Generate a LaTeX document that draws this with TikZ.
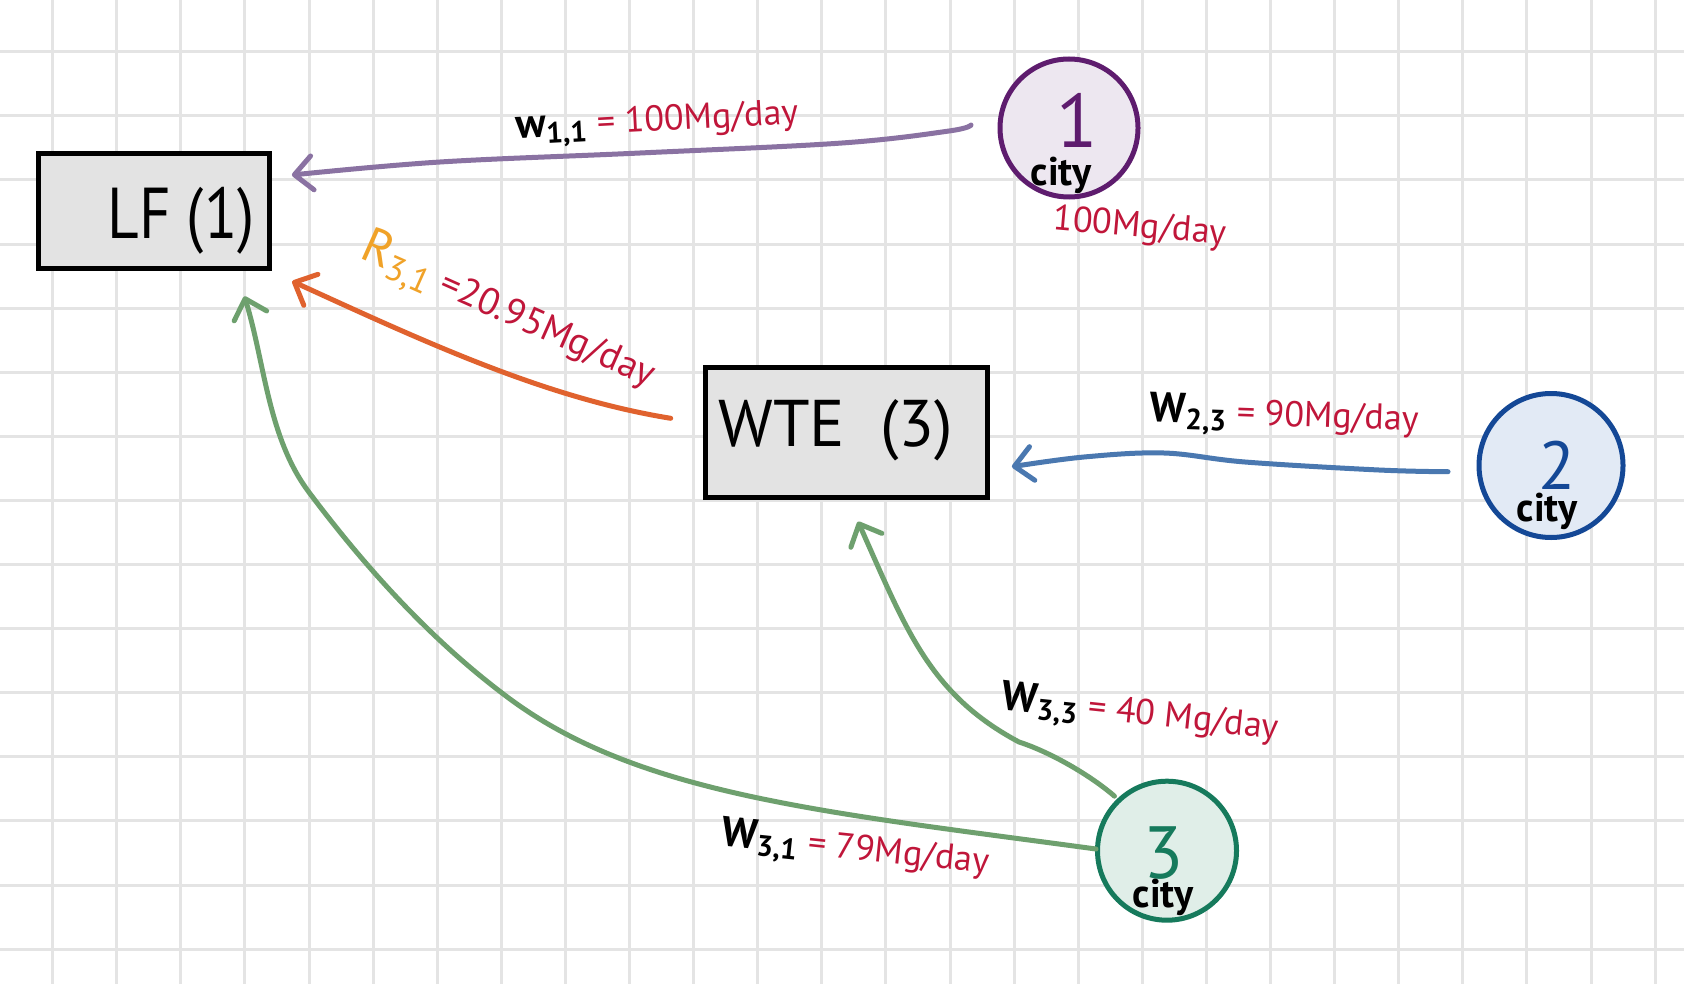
\documentclass[tikz,border=0pt]{standalone}
\usepackage{fontspec}
\setmainfont{PT Sans}
\usetikzlibrary{arrows.meta,calc}
\definecolor{gridc}{RGB}{228,228,228}
\definecolor{boxfill}{RGB}{227,227,227}
\definecolor{crimson}{RGB}{192,22,58}
\definecolor{amber}{RGB}{240,162,40}
\definecolor{purpleline}{RGB}{138,114,162}
\definecolor{purpledark}{RGB}{94,28,110}
\definecolor{purplefill}{RGB}{237,231,240}
\definecolor{orangeline}{RGB}{224,98,46}
\definecolor{blueline}{RGB}{74,120,176}
\definecolor{bluedark}{RGB}{20,72,150}
\definecolor{bluefill}{RGB}{226,234,245}
\definecolor{greenline}{RGB}{110,160,110}
\definecolor{greendark}{RGB}{22,122,92}
\definecolor{greenfill}{RGB}{224,238,232}
\newcommand{\blk}[1]{{\bfseries\fontsize{21}{21}\selectfont #1}}
\tikzset{
  boxnode/.style={draw=black, fill=boxfill, line width=2.5pt, inner sep=0pt, outer sep=0pt},
  citynode/.style={circle, line width=2.5pt, inner sep=0pt, outer sep=0pt},
  bigtxt/.style={inner sep=0pt, font=\fontsize{36}{36}\selectfont},
  numtxt/.style={inner sep=0pt, font=\fontsize{34}{34}\selectfont},
  citytxt/.style={inner sep=0pt, font=\bfseries\fontsize{20}{20}\selectfont},
  lab/.style={inner sep=0pt, font=\fontsize{18}{18}\selectfont},
  flow/.style={line width=2.5pt, line cap=round, line join=round,
    -{Straight Barb[length=9pt,width=17pt,round]}},
}
\begin{document}
\begin{tikzpicture}[x=0.5pt,y=-0.5pt]
\useasboundingbox (0,0) rectangle (1684,984);
\fill[white] (0,0) rectangle (1684,984);
% graph paper
\foreach \k in {0,...,25} \draw[gridc, line width=1.5pt] ({52.6+64.1*\k},0) -- ({52.6+64.1*\k},984);
\foreach \k in {0,...,14} \draw[gridc, line width=1.5pt] (0,{51.7+64.1*\k}) -- (1684,{51.7+64.1*\k});

% boxes
\node[boxnode, minimum width=115.5pt, minimum height=57.5pt] (lf) at (154.1,210.7) {};
\node[bigtxt, xscale=0.85] (lftext) at (181,221) {LF (1)};
\node[boxnode, minimum width=141pt, minimum height=65pt] (wte) at (846.6,432.9) {};
\node[bigtxt, font=\fontsize{33}{33}\selectfont] (wtetext) at (836,430) {WTE\ \ (3)};

% cities
\node[citynode, draw=purpledark, fill=purplefill, minimum size=69pt] (c1) at (1069,128) {};
\node[numtxt, text=purpledark, font=\fontsize{38}{38}\selectfont] (n1) at (1077,120) {1};
\node[citytxt] (city1) at (1061,175) {city};
\node[citynode, draw=bluedark, fill=bluefill, minimum size=72pt] (c2) at (1551,465.5) {};
\node[numtxt, text=bluedark] (n2) at (1557,465) {2};
\node[citytxt] (city2) at (1547,511) {city};
\node[citynode, draw=greendark, fill=greenfill, minimum size=69.5pt] (c3) at (1167,850.7) {};
\node[numtxt, text=greendark, font=\fontsize{37}{37}\selectfont] (n3) at (1164,853) {3};
\node[citytxt] (city3) at (1163,897) {city};

% connector ends
\coordinate (s1) at ($(c1.west)+(-29,-3)$);
\coordinate (e1) at ($(lf.north east)+(22.3,21.8)$);
\coordinate (s2) at ($(wte.west)+(-34.9,-14.6)$);
\coordinate (e2) at ($(lf.south east)+(22.6,13.1)$);
\coordinate (s3) at ($(c2.west)+(-31,6.2)$);
\coordinate (e3) at ($(wte.east)+(24.3,33.8)$);
\coordinate (s4) at ($(c3.north west)+(-3.4,-5.4)$);
\coordinate (e4) at ($(wte.south)+(11.4,23.7)$);
\coordinate (s5) at ($(c3.west)+(-1.5,-1.7)$);
\coordinate (e5) at ($(lf.south)+(90.3,28.1)$);

% connectors
\draw[flow, purpleline] plot[smooth, tension=0.6] coordinates {(s1) (949,131) (842,143) (640,153) (440,162) (e1)};
\draw[flow, orangeline] (s2) .. controls (545,398) and (424,341.5) .. (e2);
\draw[flow, blueline] plot[smooth, tension=0.6] coordinates {(s3) (1379,470) (1245,462) (1164,453) (1084,457) (e3)};
\draw[flow, greenline] (s4) .. controls (1090,775) and (1050,752) .. (1019,742)
   .. controls (929,694) and (906,629) .. (e4);
\draw[flow, greenline] (s5) .. controls (823,812) and (640,795) .. (510,699)
   .. controls (432.8,642) and (366.4,568.8) .. (308.8,492)
   .. controls (268,437.6) and (264.8,362.9) .. (e5);

% labels
\node[lab, rotate=3] (l11) at (657,124) {\blk{w\textsubscript{1,1}} \textcolor{crimson}{= 100Mg/day}};
\node[lab, rotate=-24, font=\fontsize{19}{19}\selectfont] (l31r) at (508,312) {\textcolor{amber}{\fontsize{25}{25}\selectfont R\textsubscript{3,1}} \textcolor{crimson}{=20.95Mg/day}};
\node[lab, rotate=-2] (l23) at (1284,417) {\blk{W\textsubscript{2,3}} \textcolor{crimson}{= 90Mg/day}};
\node[lab, rotate=-6] (l33) at (1140,715) {\blk{W\textsubscript{3,3}} \textcolor{crimson}{= 40 Mg/day}};
\node[lab, rotate=-6] (l31) at (855,850) {\blk{W\textsubscript{3,1}} \textcolor{crimson}{= 79Mg/day}};
\node[lab, rotate=-5, text=crimson] (l1out) at (1140,228) {100Mg/day};
\end{tikzpicture}
\end{document}
